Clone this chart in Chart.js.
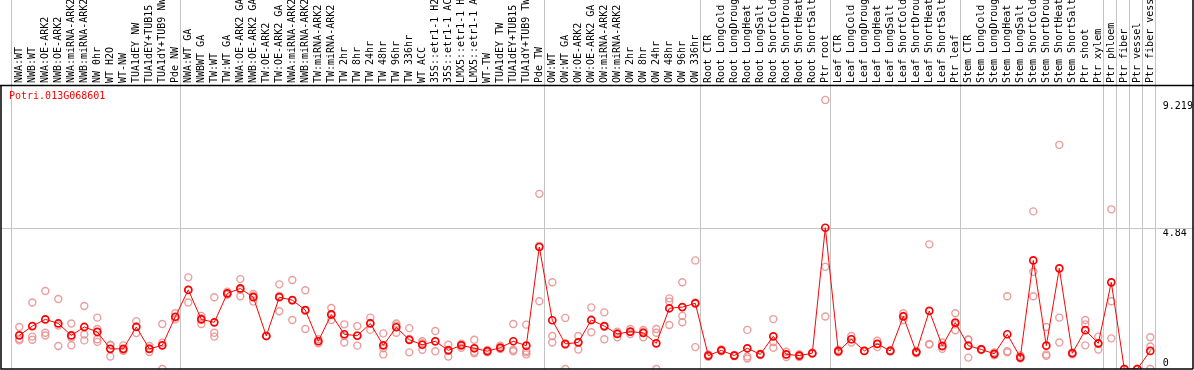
<!DOCTYPE html>
<html>
<head>
<meta charset="utf-8">
<script src="https://cdn.jsdelivr.net/npm/chart.js@4/dist/chart.umd.min.js"></script>
<style>
  html, body { margin: 0; padding: 0; background: #fff; }
  #chart { display: block; }
</style>
</head>
<body>
<canvas id="chart" width="1194" height="370"></canvas>
<script>
const geneId = "Potri.013G068601";

const categories = [
  "NWA:WT", "NWB:WT", "NWA:OE-ARK2", "NWB:OE-ARK2", "NWA:miRNA-ARK2", "NWB:miRNA-ARK2",
  "NW 0hr", "WT H2O", "WT-NW", "TUA1dEY NW", "TUA1dEY+TUB15 NW", "TUA1dY+TUB9 NW", "Pde NW",
  "NWA:WT GA", "NWBWT GA", "TW:WT", "TW:WT GA", "NWA:OE-ARK2 GA", "NWB:OE-ARK2 GA",
  "TW:OE-ARK2", "TW:OE-ARK2 GA", "NWA:miRNA-ARK2 GA", "NWB:miRNA-ARK2 GA", "TW:miRNA-ARK2",
  "TW:miRNA-ARK2 GA", "TW 2hr", "TW 8hr", "TW 24hr", "TW 48hr", "TW 96hr", "TW 336hr",
  "WT ACC", "35S::etr1-1 H2O", "35S::etr1-1 ACC", "LMX5::etr1-1 H2O", "LMX5::etr1-1 ACC",
  "WT-TW", "TUA1dEY TW", "TUA1dEY+TUB15 TW", "TUA1dY+TUB9 TW", "Pde TW",
  "OW:WT", "OW:WT GA", "OW:OE-ARK2", "OW:OE-ARK2 GA", "OW:miRNA-ARK2", "OW:miRNA-ARK2 GA",
  "OW 2hr", "OW 8hr", "OW 24hr", "OW 48hr", "OW 96hr", "OW 336hr",
  "Root CTR", "Root LongCold", "Root LongDrought", "Root LongHeat", "Root LongSalt",
  "Root ShortCold", "Root ShortDrought", "Root ShortHeat", "Root ShortSalt", "Ptr root",
  "Leaf CTR", "Leaf LongCold", "Leaf LongDrought", "Leaf LongHeat", "Leaf LongSalt",
  "Leaf ShortCold", "Leaf ShortDrought", "Leaf ShortHeat", "Leaf ShortSalt", "Ptr leaf",
  "Stem CTR", "Stem LongCold", "Stem LongDrought", "Stem LongHeat", "Stem LongSalt",
  "Stem ShortCold", "Stem ShortDrought", "Stem ShortHeat", "Stem ShortSalt", "Ptr shoot",
  "Ptr xylem", "Ptr phloem", "Ptr fiber", "Ptr vessel", "Ptr fiber vessel"
];

// mean expression per sample
const meanValues = [
  1.15, 1.47, 1.70, 1.56, 1.15, 1.44, 1.27, 0.69, 0.69, 1.44, 0.69, 0.81, 1.79,
  2.71, 1.70, 1.60, 2.59, 2.76, 2.46, 1.13, 2.46, 2.36, 2.02, 0.95, 1.87, 1.19, 1.14,
  1.56, 0.81, 1.43, 1.00, 0.83, 0.95, 0.64, 0.81, 0.71, 0.61, 0.73, 0.95, 0.80, 4.18,
  1.67, 0.86, 0.91, 1.68, 1.47, 1.20, 1.28, 1.24, 0.88, 2.08, 2.12, 2.25,
  0.46, 0.64, 0.46, 0.71, 0.50, 1.12, 0.50, 0.46, 0.54, 4.84,
  0.61, 1.02, 0.62, 0.86, 0.62, 1.80, 0.58, 1.99, 0.79, 1.59,
  0.80, 0.67, 0.52, 1.19, 0.40, 3.72, 0.80, 3.45, 0.54, 1.33, 0.88,
  2.97, 0, 0, 0.62
];

// individual replicates per sample
const replicates = [
  [1.44, 0.98, 1.03], [2.28, 1.11, 1.00], [2.67, 1.24, 1.15], [2.40, 0.79, 1.49],
  [1.56, 0.81, 1.08], [2.16, 1.18, 0.98], [1.76, 1.37, 1.02, 0.93], [0.81, 0.43, 0.83],
  [0.81, 0.62, 0.64], [1.64, 1.23, 1.45], [0.79, 0.58, 0.70], [1.54, 0.90, 0.0],
  [1.91, 1.70, 1.76],
  [3.14, 2.28, 2.71], [1.82, 1.54, 1.74], [2.46, 1.24, 1.11], [2.65, 2.54, 2.58],
  [3.08, 2.49, 2.71], [2.57, 2.31, 2.50], [1.13, 1.13, 1.13], [2.90, 1.98, 2.50],
  [3.05, 1.68, 2.35], [2.70, 1.37, 1.99], [0.95, 0.88, 1.02], [2.09, 1.68, 1.84],
  [1.53, 0.91, 1.13], [1.47, 0.80, 1.15], [1.76, 1.34, 1.58], [1.22, 0.50, 0.71],
  [1.56, 1.24, 1.49], [1.40, 0.57, 1.03], [0.95, 0.66, 0.88], [1.30, 0.61, 0.94],
  [0.83, 0.43, 0.66], [0.83, 0.73, 0.87], [1.00, 0.54, 0.59], [0.61, 0.57, 0.65],
  [0.80, 0.71, 0.68], [1.54, 0.66, 0.61], [1.52, 0.62, 0.57, 0.50], [6.00, 2.32, 4.22],
  [2.97, 1.13, 0.91], [1.75, 0.83, 0.0], [1.13, 0.67, 0.93], [2.11, 1.26, 1.67],
  [1.94, 1.02, 1.45], [1.28, 1.09, 1.23], [1.37, 1.20, 1.27], [1.34, 1.09, 1.29],
  [1.37, 1.24, 0.0], [2.42, 2.31, 1.51], [2.97, 1.82, 1.60], [3.72, 0.75, 2.28],
  [0.50, 0.46, 0.42], [0.67, 0.61, 0.64], [0.44, 0.46, 0.48], [1.34, 0.43, 0.36],
  [0.48, 0.50, 0.52], [1.71, 0.73, 0.92], [0.41, 0.50, 0.59], [0.41, 0.46, 0.51],
  [0.52, 0.54, 0.56], [9.219, 3.50, 1.80],
  [0.66, 0.57, 0.60], [1.13, 0.91, 1.02], [0.62, 0.62, 0.62], [0.75, 0.86, 0.97],
  [0.60, 0.62, 0.64], [1.91, 1.82, 1.68], [0.54, 0.61, 0.59], [4.27, 0.84, 0.86],
  [0.91, 0.77, 0.69], [1.91, 1.33, 1.53],
  [1.00, 0.39, 1.01], [0.65, 0.67, 0.69], [0.47, 0.57, 0.52], [2.49, 0.61, 0.57],
  [0.46, 0.37, 0.37], [5.40, 3.33, 2.49], [1.44, 0.50, 0.45], [7.68, 1.76, 0.91],
  [0.57, 0.50, 0.55], [1.68, 1.53, 0.81], [1.11, 0.67, 0.86],
  [5.47, 2.32, 1.05], [0, 0, 0], [0, 0, 0], [1.09, 0.77, 0.0]
];

const yTicks = [0, 4.84, 9.219];
// first sample index of each tissue / experiment block
const groupStarts = [0, 13, 41, 53, 63, 73, 84, 85, 86, 87, 88];

const monoFont = "'DejaVu Sans Mono', monospace";

const replicatePoints = [];
replicates.forEach((reps, i) => {
    reps.forEach(v => replicatePoints.push({ x: categories[i], y: v }));
});

// frame, block separators, midline, sample names and gene name
const decorations = {
    id: "decorations",
    beforeDatasetsDraw(chart) {
        const ctx = chart.ctx;
        const x = chart.scales.x;
        const y = chart.scales.y;
        const area = chart.chartArea;
        ctx.save();
        ctx.strokeStyle = "#c4c4c4";
        ctx.lineWidth = 1;
        groupStarts.forEach(g => {
            const px = Math.round(x.getPixelForValue(g) - 8) + 0.5;
            ctx.beginPath();
            ctx.moveTo(px, 0);
            ctx.lineTo(px, area.bottom);
            ctx.stroke();
        });
        const midY = Math.round(y.getPixelForValue(yTicks[1])) + 0.5;
        ctx.beginPath();
        ctx.moveTo(1, midY);
        ctx.lineTo(chart.width - 1, midY);
        ctx.stroke();

        // sample names, reading upwards from just above the plot
        ctx.fillStyle = "#000";
        ctx.font = "10px " + monoFont;
        ctx.textAlign = "left";
        ctx.textBaseline = "middle";
        categories.forEach((name, i) => {
            ctx.save();
            ctx.translate(x.getPixelForValue(i), area.top - 2);
            ctx.rotate(-Math.PI / 2);
            ctx.fillText(name, 0, 0);
            ctx.restore();
        });

        ctx.fillStyle = "#ff0000";
        ctx.textBaseline = "alphabetic";
        ctx.fillText(geneId, 9, area.top + 14);
        ctx.restore();
    },
    afterDraw(chart) {
        const ctx = chart.ctx;
        const area = chart.chartArea;
        ctx.save();
        ctx.strokeStyle = "#000";
        ctx.lineWidth = 1.5;
        ctx.beginPath();
        ctx.moveTo(0, Math.round(area.top) + 0.5);
        ctx.lineTo(chart.width, Math.round(area.top) + 0.5);
        ctx.moveTo(1, area.top);
        ctx.lineTo(1, area.bottom);
        ctx.lineTo(chart.width - 1, area.bottom);
        ctx.moveTo(chart.width - 1, 0);
        ctx.lineTo(chart.width - 1, area.bottom);
        ctx.stroke();
        ctx.restore();
    }
};

new Chart(document.getElementById("chart"), {
    type: "line",
    data: {
        labels: categories,
        datasets: [
            {
                label: "mean",
                data: meanValues,
                borderColor: "#ff0000",
                borderWidth: 1,
                pointStyle: "circle",
                pointRadius: 3.5,
                pointBorderWidth: 1.7,
                pointBorderColor: "#ff0000",
                pointBackgroundColor: "rgba(255,255,255,0)",
                tension: 0,
                order: 1
            },
            {
                label: "replicates",
                data: replicatePoints,
                showLine: false,
                pointStyle: "circle",
                pointRadius: 3.5,
                pointBorderWidth: 1.4,
                pointBorderColor: "rgba(232,140,140,0.85)",
                pointBackgroundColor: "rgba(255,255,255,0)",
                order: 2
            }
        ]
    },
    plugins: [decorations],
    options: {
        responsive: false,
        animation: false,
        devicePixelRatio: 1,
        layout: {
            autoPadding: false,
            padding: { left: 12.8, right: 0, top: 0, bottom: 1 }
        },
        scales: {
            x: {
                type: "category",
                position: "top",
                offset: true,
                grid: { display: false, drawTicks: false },
                border: { display: false },
                ticks: { display: false, autoSkip: false },
                afterFit(scale) {
                    scale.height = 85;
                    scale.paddingLeft = 0;
                    scale.paddingRight = 0;
                }
            },
            y: {
                position: "right",
                min: 0,
                max: 9.73,
                grid: { display: false, drawTicks: false },
                border: { display: false },
                afterBuildTicks(scale) {
                    scale.ticks = yTicks.map(v => ({ value: v }));
                },
                ticks: {
                    padding: 6,
                    color: "#000",
                    font: { family: monoFont, size: 10, lineHeight: 1.2 },
                    callback(value) {
                        // 0 sits above its line, the others hang below theirs
                        return value === 0 ? ["0", ""] : ["", String(value)];
                    }
                },
                afterFit(scale) {
                    scale.width = 37.2;
                    scale.paddingTop = 0;
                    scale.paddingBottom = 0;
                }
            }
        },
        plugins: {
            legend: { display: false },
            tooltip: { enabled: false },
            title: { display: false }
        }
    }
});
</script>
</body>
</html>
